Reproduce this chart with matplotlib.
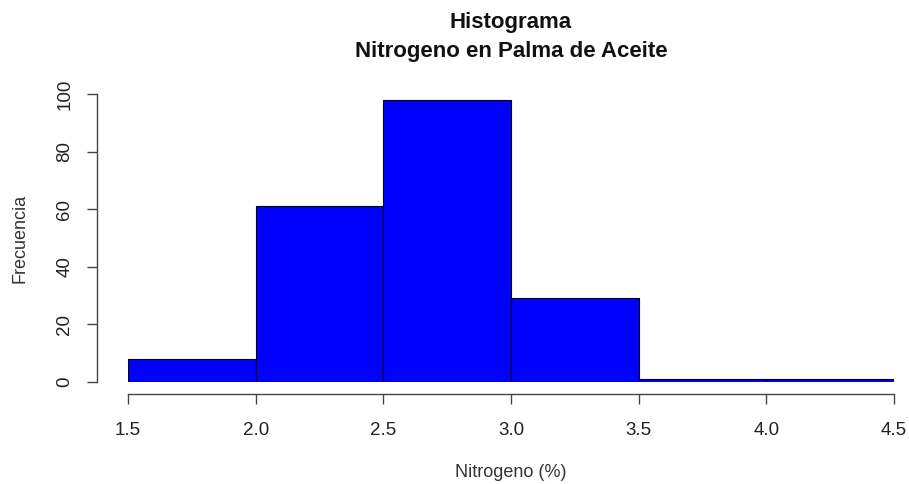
import matplotlib
matplotlib.use('Agg')
import matplotlib.pyplot as plt
import numpy as np

plt.rcParams['font.family'] = ['Liberation Sans', 'DejaVu Sans']

# histogram bins and counts
bin_edges = [1.5, 2.0, 2.5, 3.0, 3.5, 4.0, 4.5]
counts = [8, 61, 98, 29, 1, 1]
x_ticks = [1.5, 2.0, 2.5, 3.0, 3.5, 4.0, 4.5]
y_ticks = [0, 20, 40, 60, 80, 100]

W, H = 909, 484
fig = plt.figure(figsize=(W / 100, H / 100), dpi=100)
left, right = 128 / W, 894 / W
bottom, top = (H - 382) / H, (H - 94) / H
ax = fig.add_axes([left, bottom, right - left, top - bottom])

widths = np.diff(bin_edges)
ax.bar(bin_edges[:-1], counts, width=widths, align='edge',
       color='#0000FF', edgecolor='black', linewidth=0.8)

ax.set_xlim(1.5, 4.5)
ax.set_ylim(0, 100)

for s in ['top', 'right']:
    ax.spines[s].set_visible(False)
ax.spines['left'].set_position(('outward', 22.3))
ax.spines['bottom'].set_position(('outward', 8.6))
ax.spines['left'].set_bounds(0, 100)
ax.spines['bottom'].set_bounds(1.5, 4.5)
for s in ['left', 'bottom']:
    ax.spines[s].set_color('#444444')
    ax.spines[s].set_linewidth(1.0)

ax.set_xticks(x_ticks)
ax.set_xticklabels(['{:.1f}'.format(v) for v in x_ticks])
ax.set_yticks(y_ticks)
ax.set_yticklabels([str(v) for v in y_ticks], rotation=90, va='center')
ax.tick_params(axis='both', length=7, width=1.0, color='#444444',
               labelsize=13.5, labelcolor='#222222')
ax.tick_params(axis='x', pad=13)
ax.tick_params(axis='y', pad=10)

ax.set_xlabel('Nitrogeno (%)', fontsize=13, color='#333333', labelpad=18)
ax.set_ylabel('Frecuencia', fontsize=13, color='#333333', labelpad=20)
ax.set_title('Histograma\nNitrogeno en Palma de Aceite',
             fontsize=16, fontweight='bold', color='#111111', pad=27,
             linespacing=1.45)

fig.savefig('out.png', dpi=100)
